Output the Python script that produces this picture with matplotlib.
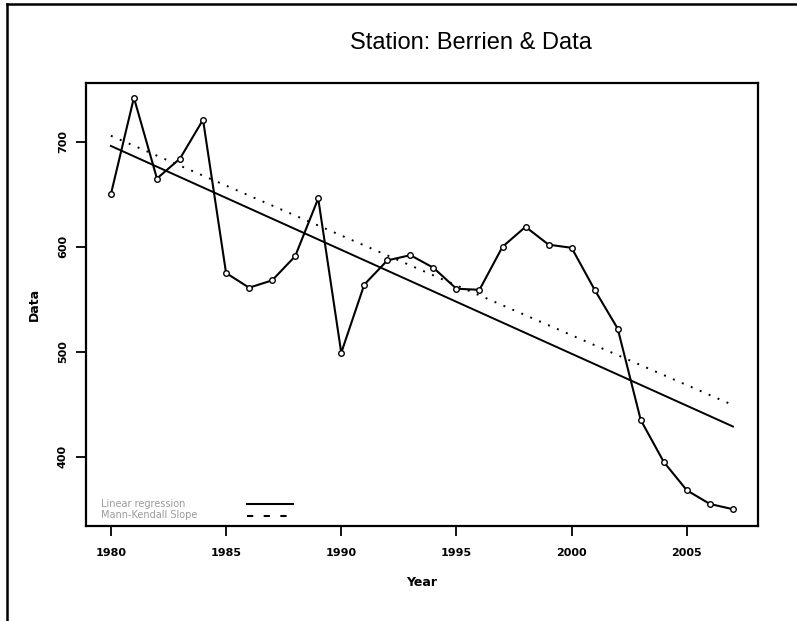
import numpy as np
import matplotlib
matplotlib.use("Agg")
import matplotlib.pyplot as plt
from matplotlib.lines import Line2D

# data
years = np.arange(1980, 2008)
values = [650, 742, 665, 684, 721, 575, 561, 568, 591, 646,
          499, 564, 587, 592, 580, 560, 559, 600, 619, 602,
          599, 559, 522, 435, 395, 368, 355, 350]
yticks = [400, 500, 600, 700]
xticks = [1980, 1985, 1990, 1995, 2000, 2005]
legend_labels = ["Linear regression", "Mann-Kendall Slope"]

y = np.array(values, dtype=float)

# linear regression
lin_slope, lin_icpt = np.polyfit(years, y, 1)
lin_line = lin_slope * years + lin_icpt

# Sen's slope (Mann-Kendall)
slopes = []
for i in range(len(years)):
    for j in range(i + 1, len(years)):
        slopes.append((y[j] - y[i]) / (years[j] - years[i]))
sen = np.median(slopes)
sen_icpt = np.median(y) - sen * np.median(years)
sen_line = sen * years + sen_icpt

fig = plt.figure(figsize=(7.97, 6.21), dpi=100)
ax = fig.add_axes([86 / 797, 1 - 526 / 621, (758 - 86) / 797, (526 - 83) / 621])

ax.plot(years, y, color="black", lw=1.5, marker="o", ms=4,
        mfc="white", mec="black", mew=1.0, zorder=3)
ax.plot(years, lin_line, color="black", lw=1.4, zorder=2)
ax.plot(years, sen_line, color="black", lw=1.4, ls=(0, (1, 4)), zorder=2)

ax.set_xlim(1978.92, 2008.09)
ax.set_ylim(334, 756)
ax.set_xticks(xticks)
ax.set_yticks(yticks)
ax.set_xticklabels([str(t) for t in xticks], fontsize=8, fontweight="bold")
ax.set_yticklabels([str(t) for t in yticks], fontsize=8, fontweight="bold",
                   rotation=90, va="center")
ax.tick_params(direction="out", length=7, width=1.3, pad=9)
ax.tick_params(axis="y", pad=6)
for s in ax.spines.values():
    s.set_linewidth(1.6)

ax.set_xlabel("Year", fontsize=9, fontweight="bold", labelpad=13)
ax.set_ylabel("Data", fontsize=9, fontweight="bold", labelpad=12)

fig.text(471 / 797, 1 - 43 / 621, "Station: Berrien & Data", fontsize=17,
         family="Liberation Sans", ha="center", va="center")

# legend drawn by hand in the lower left
fig.text(101 / 797, 1 - 504 / 621, legend_labels[0], fontsize=7,
         color="#9a9a9a", va="center")
fig.text(101 / 797, 1 - 515 / 621, legend_labels[1], fontsize=7,
         color="#9a9a9a", va="center")
fig.add_artist(Line2D([247 / 797, 293 / 797], [1 - 504 / 621, 1 - 504 / 621],
                      color="black", lw=1.5))
fig.add_artist(Line2D([247 / 797, 293 / 797], [1 - 516 / 621, 1 - 516 / 621],
                      color="black", lw=1.5, ls=(0, (3, 5))))

# outer frame (left and top)
fig.add_artist(Line2D([7 / 797, 7 / 797], [0, 1 - 4 / 621], color="black", lw=1.8))
fig.add_artist(Line2D([7 / 797, 1], [1 - 4 / 621, 1 - 4 / 621], color="black", lw=1.8))

fig.savefig("out.png", dpi=100)
